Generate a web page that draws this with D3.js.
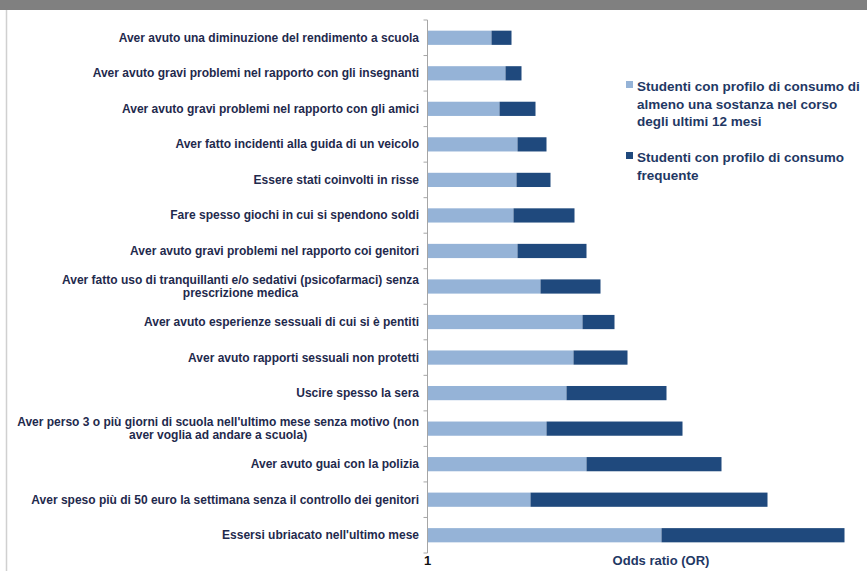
<!DOCTYPE html>
<html>
<head>
<meta charset="utf-8">
<script src="https://cdn.jsdelivr.net/npm/d3@7"></script>
<style>
  body { margin: 0; background: #fff; }
  svg { display: block; font-family: "Liberation Sans", Arial, sans-serif; }
</style>
</head>
<body>
<svg id="chart" width="867" height="571"></svg>
<script>
// categories, top to bottom
var categories = [
  ["Aver avuto una diminuzione del rendimento a scuola"],
  ["Aver avuto gravi problemi nel rapporto con gli insegnanti"],
  ["Aver avuto gravi problemi nel rapporto con gli amici"],
  ["Aver fatto incidenti alla guida di un veicolo"],
  ["Essere stati coinvolti in risse"],
  ["Fare spesso giochi in cui si spendono soldi"],
  ["Aver avuto gravi problemi nel rapporto coi genitori"],
  ["Aver fatto uso di tranquillanti e/o sedativi (psicofarmaci) senza", "prescrizione medica"],
  ["Aver avuto esperienze sessuali di cui si è pentiti"],
  ["Aver avuto rapporti sessuali non protetti"],
  ["Uscire spesso la sera"],
  ["Aver perso 3 o più giorni di scuola nell'ultimo mese senza motivo (non", "aver voglia ad andare a scuola)"],
  ["Aver avuto guai con la polizia"],
  ["Aver speso più di 50 euro la settimana senza il controllo dei genitori"],
  ["Essersi ubriacato nell'ultimo mese"]
];

// odds ratios
var orAlmenoUna = [1.64, 1.78, 1.72, 1.90, 1.89, 1.86, 1.90, 2.13, 2.55, 2.46, 2.39, 2.19, 2.59, 2.03, 3.34];
var orFrequente = [1.84, 1.94, 2.08, 2.19, 2.23, 2.47, 2.59, 2.73, 2.87, 3.00, 3.39, 3.55, 3.94, 4.40, 5.17];

var seriesNames = [
  ["Studenti con profilo di consumo di", "almeno una sostanza nel corso", "degli ultimi 12 mesi"],
  ["Studenti con profilo di consumo", "frequente"]
];
var colors = ["#95b3d7", "#1f497d"];

var svg = d3.select("#chart"),
    width = +svg.attr("width"),
    height = +svg.attr("height");

// top grey band and left frame line
svg.append("rect").attr("x", 0).attr("y", 0).attr("width", width).attr("height", 10).attr("fill", "#808080");
svg.append("line").attr("x1", 6.5).attr("x2", 6.5).attr("y1", 10).attr("y2", height)
    .attr("stroke", "#d0d0d0").attr("stroke-width", 1.5);

var x = d3.scaleLinear().domain([1, 5]).range([427.5, 827.5]);
var y = d3.scaleBand().domain(d3.range(categories.length)).range([20, 553]).paddingInner(0.6).paddingOuter(0.3);

var rows = svg.append("g").selectAll("g")
    .data(categories)
    .join("g");

// light bar: 1 -> OR almeno una sostanza
rows.append("rect")
    .attr("x", x(1))
    .attr("y", function(d, i) { return y(i); })
    .attr("width", function(d, i) { return x(orAlmenoUna[i]) - x(1); })
    .attr("height", y.bandwidth())
    .attr("fill", colors[0]);

// dark bar: OR almeno -> OR frequente
rows.append("rect")
    .attr("x", function(d, i) { return x(orAlmenoUna[i]); })
    .attr("y", function(d, i) { return y(i); })
    .attr("width", function(d, i) { return x(orFrequente[i]) - x(orAlmenoUna[i]); })
    .attr("height", y.bandwidth())
    .attr("fill", colors[1]);

// category labels
rows.append("text")
    .attr("text-anchor", "middle")
    .attr("fill", "#1f2a4d")
    .style("font-size", "12px")
    .style("font-weight", "bold")
    .each(function(d, i) {
      var t = d3.select(this);
      var cy = y(i) + y.bandwidth() / 2;
      var lh = 13;
      var y0 = cy - (d.length - 1) * lh / 2 + 4;
      d.forEach(function(line, k) {
        t.append("tspan").attr("y", y0 + k * lh).text(line);
      });
    });

// right-align the label block, centre lines within it
rows.select("text").each(function(d) {
  var t = d3.select(this);
  var tspans = t.selectAll("tspan");
  var maxW = 0;
  tspans.each(function() { maxW = Math.max(maxW, this.getComputedTextLength()); });
  tspans.attr("x", 419 - maxW / 2);
});

// y axis with ticks between categories
var axisG = svg.append("g").attr("fill", "none").attr("stroke", "#a6a6a6");
axisG.append("line").attr("x1", x(1)).attr("x2", x(1)).attr("y1", 20).attr("y2", 553);
d3.range(categories.length + 1).forEach(function(k) {
  var ty = 20 + k * (533 / categories.length);
  axisG.append("line").attr("x1", x(1) - 4).attr("x2", x(1)).attr("y1", ty).attr("y2", ty);
});

// x axis label "1"
svg.append("text")
    .attr("x", x(1))
    .attr("y", 565)
    .attr("text-anchor", "middle")
    .style("font-size", "13px")
    .style("font-weight", "bold")
    .attr("fill", "#111")
    .text("1");

svg.append("text")
    .attr("x", 661)
    .attr("y", 565)
    .attr("text-anchor", "middle")
    .style("font-size", "13px")
    .style("font-weight", "bold")
    .attr("fill", "#1f3864")
    .text("Odds ratio (OR)");

// legend
var legendTop = [86, 157];
seriesNames.forEach(function(lines, s) {
  var g = svg.append("g");
  g.append("rect").attr("x", 626).attr("y", legendTop[s] - 5).attr("width", 7).attr("height", 7).attr("fill", colors[s]);
  var t = g.append("text")
      .style("font-size", "13.5px")
      .style("font-weight", "bold")
      .attr("fill", "#1f3864");
  lines.forEach(function(line, k) {
    t.append("tspan").attr("x", 637).attr("y", legendTop[s] + 5 + k * 17.5).text(line);
  });
});
</script>
</body>
</html>
